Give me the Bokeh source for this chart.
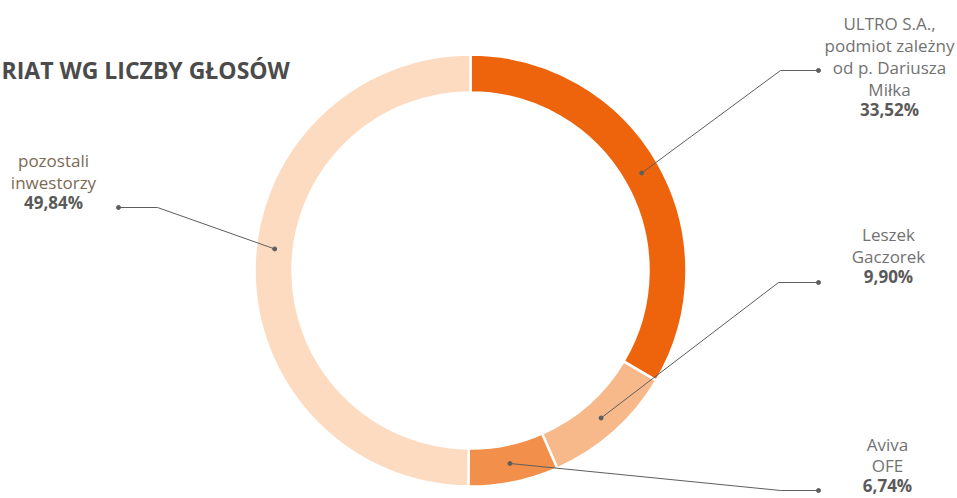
import numpy as np
from bokeh.plotting import figure
from bokeh.models import Range1d, ColumnDataSource
from bokeh.core.properties import value
from bokeh.embed import file_html
from bokeh.resources import INLINE

# ---------------- data ----------------
categories = ["ULTRO S.A.,\npodmiot zależny\nod p. Dariusza\nMiłka",
              "Leszek\nGaczorek",
              "Aviva\nOFE",
              "pozostali\ninwestorzy"]
shares = [33.52, 9.90, 6.74, 49.84]
pct_labels = ["33,52%", "9,90%", "6,74%", "49,84%"]
title_text = "RIAT WG LICZBY GŁOSÓW"

# ---------------- style / layout ----------------
colors = ["#EE640C", "#F7B88A", "#F2904B", "#FDDBC1"]
name_colors = ["#727272", "#727272", "#727272", "#7B6A54"]
FONT = "Open Sans"
W, H = 957, 498
X0, Y0 = 0, 0


def sy(y):
    """screen y (px) -> data y"""
    return (Y0 + H) - y


CX, CY = 470, sy(270)
R_IN, R_OUT = 178, 216
R_MID = (R_IN + R_OUT) / 2

# label layout: centre x, first line screen y, elbow (screen), end (screen), anchor angle nudge (deg)
label_x = [889, 888, 887, 53]
label_y0 = [23, 234, 444, 160]
line_h = [22, 22, 21, 22]
elbows = [(780, 70), (778, 282), (780, 490), (157, 207)]
ends = [(818, 70), (818, 282), (818, 490), (118, 207)]
nudge = [0, 0, 0, -6]
PCT_GAP = 20

p = figure(width=W, height=H, x_range=Range1d(X0, X0 + W), y_range=Range1d(0, H),
           output_backend="svg", toolbar_location=None, min_border=0,
           x_axis_location=None, y_axis_location=None)
p.grid.visible = False
p.outline_line_color = None
p.background_fill_color = "white"
p.border_fill_color = "white"

frac = np.array(shares) / np.sum(shares)
cum = np.concatenate([[0.0], np.cumsum(frac)])
start = np.pi / 2 - 2 * np.pi * cum[:-1]
end = np.pi / 2 - 2 * np.pi * cum[1:]
mid = (start + end) / 2 + np.radians(nudge)

src = ColumnDataSource(dict(start=start, end=end, color=colors))
p.annular_wedge(x=CX, y=CY, inner_radius=R_IN, outer_radius=R_OUT,
                start_angle="start", end_angle="end", direction="clock",
                fill_color="color", line_color="white", line_width=2.5, source=src)

# leader lines
ax = CX + R_MID * np.cos(mid)
ay = CY + R_MID * np.sin(mid)
xs, ys = [], []
for i in range(len(shares)):
    xs.append([ax[i], elbows[i][0], ends[i][0]])
    ys.append([ay[i], sy(elbows[i][1]), sy(ends[i][1])])
p.multi_line(xs=xs, ys=ys, line_color="#5E5E5E", line_width=1)
p.scatter(x=list(ax) + [e[0] for e in ends], y=list(ay) + [sy(e[1]) for e in ends],
          size=4, color="#5E5E5E")

# labels
tx, ty, tt, tc = [], [], [], []
px, py = [], []
for i, name in enumerate(categories):
    lines = name.split("\n")
    for j, ln in enumerate(lines):
        tx.append(label_x[i])
        ty.append(sy(label_y0[i] + j * line_h[i]))
        tt.append(ln)
        tc.append(name_colors[i])
    px.append(label_x[i])
    py.append(sy(label_y0[i] + (len(lines) - 1) * line_h[i] + PCT_GAP))

p.text(x=tx, y=ty, text=tt, text_color=tc, text_font=value(FONT), text_font_size="17px",
       text_align="center", text_baseline="middle")
p.text(x=px, y=py, text=pct_labels, text_color="#5A5A5A", text_font=value(FONT),
       text_font_size="17px", text_font_style="bold", text_align="center", text_baseline="middle")

# title
p.text(x=[1], y=[sy(69.5)], text=[title_text], text_color="#4B4B4B", text_font=value(FONT),
       text_font_size="23px", text_font_style="bold", text_align="left", text_baseline="middle")

open("out.html", "w").write(file_html(p, INLINE))
